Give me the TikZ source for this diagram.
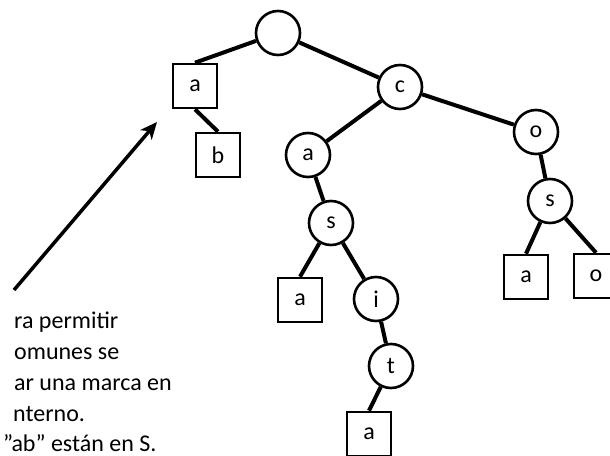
\documentclass[tikz,border=0pt]{standalone}
\usepackage{fontspec}
\setmainfont{Carlito}
\usetikzlibrary{arrows.meta}

\tikzset{
  letra/.style={circle, draw, line width=2.6pt, minimum size=44pt,
    inner sep=0pt, font=\fontsize{24}{28}\selectfont},
  hoja/.style={rectangle, draw, line width=2.6pt, minimum size=44pt,
    inner sep=0pt, font=\fontsize{24}{28}\selectfont},
  rama/.style={line width=4pt},
  nota/.style={anchor=base west, inner sep=0pt, font=\fontsize{24}{30}\selectfont},
}

\begin{document}
\begin{tikzpicture}[x=1pt, y=-1pt]
        \useasboundingbox (0,0) rectangle (610,455);
        \clip (0,0) rectangle (610,455);

        \node[letra] (raiz)  at (278, 33)  {};
        \node[hoja]  (a)     at (195, 86)  {a};
        \node[hoja]  (ab)    at (218, 155) {b};
        \node[letra] (c)     at (400, 87)  {c};
        \node[letra] (ca)    at (308, 155) {a};
        \node[letra] (cas)   at (331, 223) {s};
        \node[hoja]  (casa)  at (300, 300) {a};
        \node[letra] (casi)  at (376, 299) {i};
        \node[letra] (cast)  at (391, 366) {t};
        \node[hoja]  (casta) at (369, 434) {a};
        \node[letra] (co)    at (536, 132) {o};
        \node[letra] (cos)   at (550, 201) {s};
        \node[hoja]  (cosa)  at (526, 277) {a};
        \node[hoja]  (coso)  at (596, 276) {o};

        \draw[rama] (raiz) -- (a.north);
        \draw[rama] (a.south) -- (ab.north);
        \draw[rama] (raiz) -- (c);
        \draw[rama] (c) -- (ca);
        \draw[rama] (ca) -- (cas);
        \draw[rama] (cas) -- (casa.north);
        \draw[rama] (cas) -- (casi);
        \draw[rama] (casi) -- (cast);
        \draw[rama] (cast) -- (casta.north);
        \draw[rama] (c) -- (co);
        \draw[rama] (co) -- (cos);
        \draw[rama] (cos) -- (cosa.north);
        \draw[rama] (cos) -- (coso.north);

        % flecha hacia la hoja a
        \coordinate (cola) at (14, 290);
        \coordinate (punta) at (157, 122);
        \draw[line width=3.5pt, -{Stealth[length=17pt, width=15pt, inset=5pt]}] (cola) -- (punta);

        \node[nota] (n1) at (14, 328) {ra permitir};
        \node[nota] (n2) at (14, 359) {omunes se};
        \node[nota] (n3) at (14, 390) {ar una marca en};
        \node[nota] (n4) at (13, 421) {nterno.};
        \node[nota] (n5) at (3, 451)  {”ab” están en S.};
\end{tikzpicture}
\end{document}
